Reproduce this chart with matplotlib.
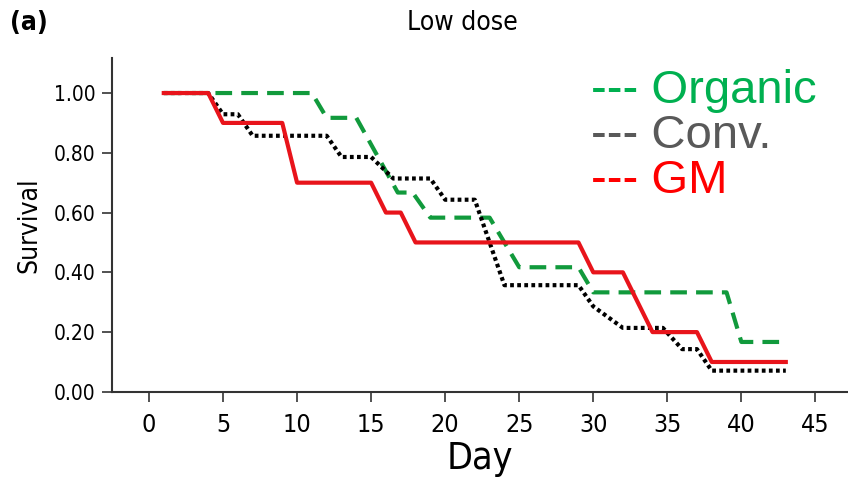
import matplotlib
matplotlib.use('Agg')
import matplotlib.pyplot as plt
from matplotlib import font_manager

# Survival curves (day, survival)
organic_day = [1, 11, 12, 14, 16.8, 17.8, 19, 23, 25, 29, 30, 39, 40, 43]
organic_surv = [1.0, 1.0, 0.917, 0.917, 0.667, 0.667, 0.583, 0.583, 0.417, 0.417, 0.333, 0.333, 0.167, 0.167]

conv_day = [1, 4, 5, 6, 7, 12, 13, 15, 16.5, 19, 20, 22, 24, 29, 30, 32, 34.7, 36, 37, 38, 43]
conv_surv = [1.0, 1.0, 0.929, 0.929, 0.857, 0.857, 0.786, 0.786, 0.714, 0.714, 0.643, 0.643,
             0.357, 0.357, 0.286, 0.214, 0.214, 0.143, 0.143, 0.071, 0.071]

gm_day = [1, 4, 5, 9, 10, 15, 16, 17, 18, 29, 30, 32, 34, 37, 38, 43]
gm_surv = [1.0, 1.0, 0.9, 0.9, 0.7, 0.7, 0.6, 0.6, 0.5, 0.5, 0.4, 0.4, 0.2, 0.2, 0.1, 0.1]

x_ticks = [0, 5, 10, 15, 20, 25, 30, 35, 40, 45]
y_ticks = [0.0, 0.2, 0.4, 0.6, 0.8, 1.0]
legend_labels = ['--- Organic', '--- Conv.', '--- GM']
legend_colors = ['#00b050', '#595959', '#ff0000']

names = {f.name for f in font_manager.fontManager.ttflist}
sans = 'Liberation Sans' if 'Liberation Sans' in names else 'DejaVu Sans'
cond = dict(family='DejaVu Sans', stretch='condensed')

fig = plt.figure(figsize=(8.48, 4.88), dpi=100)
ax = fig.add_axes([0.132, 0.197, 0.868, 0.684])

ax.plot(organic_day, organic_surv, color='#119a3c', lw=3.0, dashes=(4, 2.2), zorder=2)
ax.plot(conv_day, conv_surv, color='black', lw=3.0, dashes=(0.9, 0.8), zorder=3)
ax.plot(gm_day, gm_surv, color='#e8141b', lw=3.0, zorder=4)

ax.set_xlim(-2.5, 47.2)
ax.set_ylim(0, 1.117)
ax.set_xticks(x_ticks)
ax.set_yticks(y_ticks)
ax.set_xticklabels([str(t) for t in x_ticks], fontsize=18, **cond)
ax.set_yticklabels(['%.2f' % t for t in y_ticks], fontsize=15, **cond)
ax.tick_params(length=7, width=1.2, color='#333333')
ax.tick_params(axis='x', pad=8)
ax.tick_params(axis='y', pad=5)

for s in ['top', 'right']:
    ax.spines[s].set_visible(False)
for s in ['left', 'bottom']:
    ax.spines[s].set_linewidth(1.5)
    ax.spines[s].set_color('#333333')

ax.set_xlabel('Day', fontsize=27, labelpad=3, **cond)
ax.set_ylabel('Survival', fontsize=19, labelpad=8, **cond)

fig.text(0.545, 0.952, 'Low dose', fontsize=19, ha='center', va='center', **cond)
fig.text(0.012, 0.952, '(a)', fontsize=19, weight='bold', ha='left', va='center', **cond)

for i, (lab, col) in enumerate(zip(legend_labels, legend_colors)):
    fig.text(0.697, (488 - 103 - 45 * i) / 488, lab, color=col, fontsize=34,
             family=sans, ha='left', va='baseline')

fig.savefig('out.png', dpi=100)
